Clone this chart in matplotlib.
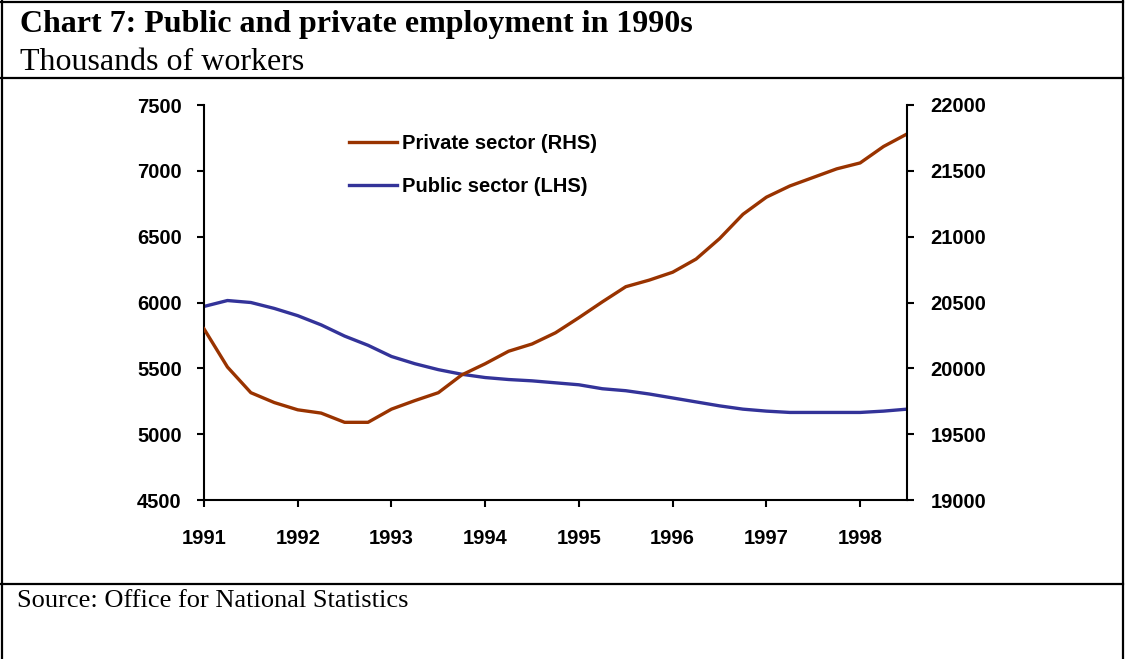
import numpy as np
import matplotlib
matplotlib.use('Agg')
import matplotlib.pyplot as plt
from matplotlib.lines import Line2D

# quarterly, 1991 Q1 to 1998 Q3
quarters = np.arange(31) * 0.25 + 1991
public = [5970, 6015, 6000, 5955, 5900, 5830, 5745, 5675, 5590, 5535, 5490,
          5455, 5430, 5415, 5405, 5390, 5375, 5345, 5330, 5305, 5275, 5245,
          5215, 5190, 5175, 5165, 5165, 5165, 5165, 5175, 5190]
private = [20300, 20010, 19815, 19740, 19685, 19660, 19590, 19590, 19690,
           19755, 19815, 19950, 20035, 20130, 20185, 20270, 20385, 20505,
           20620, 20670, 20730, 20830, 20985, 21170, 21300, 21385, 21450,
           21515, 21560, 21685, 21780]
years = [1991, 1992, 1993, 1994, 1995, 1996, 1997, 1998]
left_ticks = [4500, 5000, 5500, 6000, 6500, 7000, 7500]
right_ticks = [19000, 19500, 20000, 20500, 21000, 21500, 22000]

W, H = 1125, 659
sans = 'Liberation Sans'
serif = 'Liberation Serif'

fig = plt.figure(figsize=(W / 100, H / 100), dpi=100)
ax = fig.add_axes([204 / W, 1 - 500 / H, 703 / W, 395 / H])
ax2 = ax.twinx()

pub_line, = ax.plot(quarters, public, color='#333399', lw=2.4, label='Public sector (LHS)')
priv_line, = ax2.plot(quarters, private, color='#993300', lw=2.4, label='Private sector (RHS)')

ax.set_xlim(1991, 1998.5)
ax.set_ylim(4500, 7500)
ax2.set_ylim(19000, 22000)
ax.set_xticks(years)
ax.set_yticks(left_ticks)
ax2.set_yticks(right_ticks)

for a in (ax, ax2):
    a.spines['top'].set_visible(False)
    for s in a.spines.values():
        s.set_linewidth(1.5)
ax.spines['right'].set_visible(False)
ax2.spines['left'].set_visible(False)
ax2.spines['bottom'].set_visible(False)

ax.tick_params(axis='x', direction='out', length=5, width=1.5, pad=16)
ax.tick_params(axis='y', direction='out', length=5, width=1.5, pad=11)
ax2.tick_params(axis='y', direction='out', length=5, width=1.5, pad=12)
for lab in ax.get_xticklabels() + ax.get_yticklabels() + ax2.get_yticklabels():
    lab.set_fontfamily(sans)
    lab.set_fontweight('bold')
    lab.set_fontsize(14.5)

leg = fig.legend(handles=[priv_line, pub_line], loc='upper left',
                 bbox_to_anchor=(349 / W, 1 - 134 / H), frameon=False,
                 borderpad=0, borderaxespad=0, handlelength=2.4,
                 handletextpad=0.25, labelspacing=1.2,
                 prop={'family': sans, 'weight': 'bold', 'size': 14.5})

# titles and source
fig.text(20 / W, 1 - 32 / H, 'Chart 7: Public and private employment in 1990s',
         family=serif, weight='bold', size=23, va='baseline')
fig.text(20 / W, 1 - 70 / H, 'Thousands of workers', family=serif, size=23, va='baseline')
fig.text(17 / W, 1 - 607 / H, 'Source: Office for National Statistics',
         family=serif, size=19, va='baseline')

# frame lines
def hline(y, x0=1, x1=1123):
    fig.add_artist(Line2D([x0 / W, x1 / W], [1 - y / H, 1 - y / H], color='black', lw=1.6))

def vline(x, y0=1, y1=H + 5):
    fig.add_artist(Line2D([x / W, x / W], [1 - y0 / H, 1 - y1 / H], color='black', lw=1.6))

hline(1.5)
hline(78)
hline(584)
vline(1.5)
vline(1123)

fig.savefig('out.png', dpi=100)
